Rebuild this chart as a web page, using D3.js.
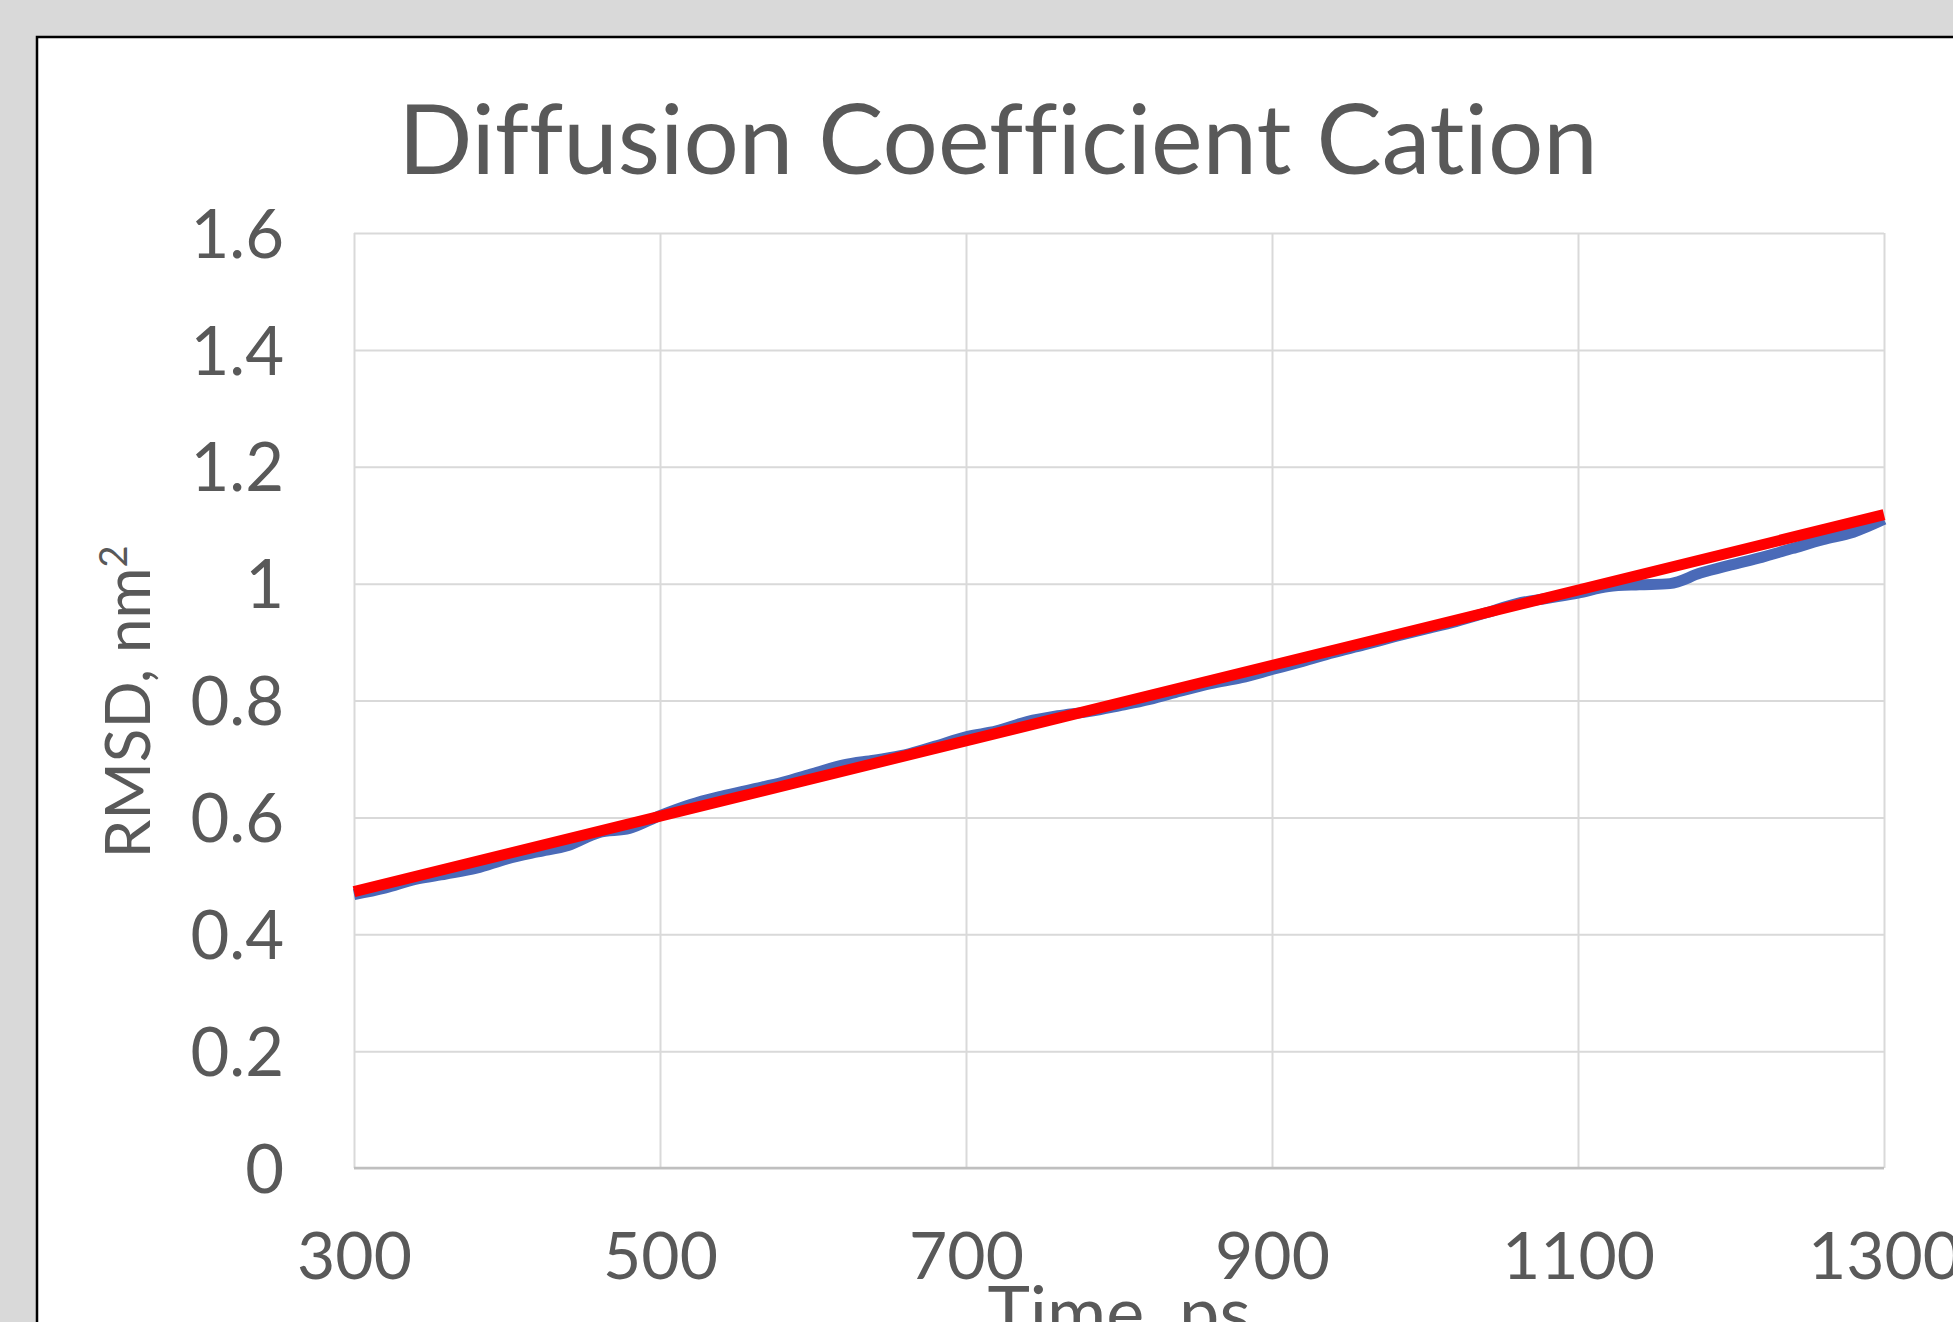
<!DOCTYPE html>
<html>
<head>
<meta charset="utf-8">
<script src="https://cdn.jsdelivr.net/npm/d3@7"></script>
<style>
  body { margin: 0; background: #d9d9d9; overflow: hidden; }
  text { font-family: Lato, "Open Sans", sans-serif; fill: #595959; font-variant-ligatures: none; }
</style>
</head>
<body>
<div id="my_dataviz"></div>
<script>
// RMSD series (blue), time in ps
var time = [300, 320, 340, 360, 380, 400, 420, 440, 460, 480,
            500, 520, 540, 560, 580, 600, 620, 640, 660, 680,
            700, 720, 740, 760, 780, 800, 820, 840, 860, 880,
            900, 920, 940, 960, 980, 1000, 1020, 1040, 1060, 1080,
            1100, 1120, 1140, 1160, 1180, 1200, 1220, 1240, 1260, 1280, 1300];
var rmsd = [0.468, 0.479, 0.494, 0.503, 0.513, 0.529, 0.541, 0.552, 0.574, 0.581,
            0.603, 0.622, 0.636, 0.648, 0.660, 0.675, 0.690, 0.698, 0.707, 0.722,
            0.738, 0.748, 0.764, 0.774, 0.781, 0.791, 0.802, 0.816, 0.829, 0.839,
            0.853, 0.867, 0.882, 0.895, 0.909, 0.922, 0.935, 0.950, 0.966, 0.975,
            0.984, 0.995, 0.998, 1.000, 1.018, 1.032, 1.045, 1.060, 1.075, 1.088, 1.110];

// linear trend line (red), end points
var trendTime = [300, 1300];
var trendRmsd = [0.473, 1.118];

var xTicks = [300, 500, 700, 900, 1100, 1300];
var yTicks = [0, 0.2, 0.4, 0.6, 0.8, 1, 1.2, 1.4, 1.6];

// set the dimensions and margins of the graph
var margin = {top: 233, left: 354},
    width = 1530,
    height = 935;

var svg = d3.select("#my_dataviz")
    .append("svg")
    .attr("width", 1953)
    .attr("height", 1322);

// chart area with black frame (runs off the right / bottom edge)
svg.append("rect")
    .attr("x", 37).attr("y", 37)
    .attr("width", 1922).attr("height", 1330)
    .attr("fill", "white")
    .attr("stroke", "black")
    .attr("stroke-width", 2.5);

var g = svg.append("g")
    .attr("transform", "translate(" + margin.left + "," + margin.top + ")");

var x = d3.scaleLinear().domain([300, 1300]).range([0, width]);
var y = d3.scaleLinear().domain([0, 1.6]).range([height, 0]);

// Y axis + horizontal grid
var yAxis = g.append("g")
    .call(d3.axisLeft(y).tickValues(yTicks).tickSize(-width).tickPadding(70)
        .tickFormat(function(d) { return d3.format("~g")(d); }));
yAxis.select(".domain").remove();
yAxis.selectAll("line").attr("stroke", "#d9d9d9").attr("stroke-width", 2);
yAxis.selectAll("text")
    .style("font-size", "67px")
    .attr("fill", "#595959")
    .attr("dy", "0.36em");

// X axis + vertical grid
var xAxis = g.append("g")
    .attr("transform", "translate(0," + height + ")")
    .call(d3.axisBottom(x).tickValues(xTicks).tickSize(-height).tickPadding(64)
        .tickFormat(d3.format("d")));
xAxis.select(".domain").remove();
xAxis.selectAll("line").attr("stroke", "#d9d9d9").attr("stroke-width", 2);
xAxis.selectAll("text")
    .style("font-size", "66px")
    .attr("fill", "#595959");

// bottom axis line
g.append("line")
    .attr("x1", 0).attr("x2", width)
    .attr("y1", y(0)).attr("y2", y(0))
    .attr("stroke", "#bfbfbf")
    .attr("stroke-width", 2.5);

// blue RMSD line
var data = time.map(function(t, i) { return {t: t, v: rmsd[i]}; });
g.append("path")
    .datum(data)
    .attr("fill", "none")
    .attr("stroke", "#4a6ab8")
    .attr("stroke-width", 11)
    .attr("stroke-linejoin", "round")
    .attr("d", d3.line()
        .curve(d3.curveMonotoneX)
        .x(function(d) { return x(d.t); })
        .y(function(d) { return y(d.v); }));

// red trend line
var trend = trendTime.map(function(t, i) { return {t: t, v: trendRmsd[i]}; });
g.append("path")
    .datum(trend)
    .attr("fill", "none")
    .attr("stroke", "#ff0000")
    .attr("stroke-width", 11)
    .attr("d", d3.line()
        .x(function(d) { return x(d.t); })
        .y(function(d) { return y(d.v); }));

// title
var title = svg.append("text")
    .attr("x", 998)
    .attr("y", 174)
    .attr("text-anchor", "middle")
    .style("font-size", "86px")
    .text("Diffusion Coefficient Cation");
var tw = title.node().getComputedTextLength();
title.style("font-size", (86 * 1200 / tw) + "px");

// x axis title
svg.append("text")
    .attr("x", margin.left + width / 2)
    .attr("y", 1338)
    .attr("text-anchor", "middle")
    .style("font-size", "72px")
    .text("Time, ps");

// y axis title
var yt = svg.append("text")
    .attr("transform", "translate(150," + 702 + ") rotate(-90)")
    .attr("text-anchor", "middle")
    .style("font-size", "62px");
yt.append("tspan").text("RMSD, nm");
yt.append("tspan")
    .attr("dy", "-0.6em")
    .style("font-size", "38px")
    .text("2");
</script>
</body>
</html>
